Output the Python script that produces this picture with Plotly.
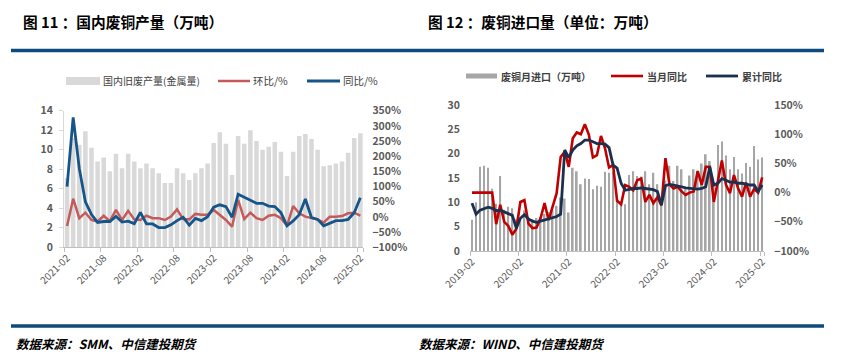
import plotly.graph_objects as go

W, H = 845, 360
FONT = "Noto Sans CJK SC, Noto Sans, sans-serif"
GRAY_TXT = "#595959"
RULE = "#0E4A7C"

# ---------------- Left chart: 国内废铜产量 ----------------
left_months = [f"{y}-{m:02d}" for y in range(2021, 2026) for m in range(1, 13)
               if "2021-02" <= f"{y}-{m:02d}" <= "2025-02"]
left_output = [7.1, 11.2, 10.5, 11.9, 10.2, 8.8, 9.2, 7.8, 9.6, 8.1,
               9.6, 8.8, 8.1, 8.6, 8.1, 7.6, 6.6, 6.6, 8.1, 7.6,
               6.9, 7.6, 8.1, 8.6, 10.7, 11.8, 10.6, 7.4, 11.4, 10.6,
               12.0, 10.9, 10.0, 10.3, 10.8, 9.8, 7.3, 9.8, 11.4, 11.6,
               11.1, 10.0, 8.3, 8.4, 8.6, 8.8, 9.7, 11.2, 11.7]
left_mom = [-30, 60, -4, 14, -10, -15, 4, -14, 23, -10,
            20, -8, -10, 4, -4, -4, -10, 1, 25, -7,
            -8, 10, 7, 7, 23, 7, -10, -32, 56, -7,
            14, -4, -10, 4, 7, -4, -29, 36, 12, 1,
            -4, -8, -19, 1, 1, 3, 12, 14, 4]
left_yoy = [100, 328, 160, 50, 8, -18, -15, -15, 2, -17,
            -14, -22, 15, -23, -23, -35, -35, -26, -12, -1,
            -27, -5, -12, 1, 32, 40, 34, -1, 75, 65,
            54, 45, 45, 36, 34, 14, -29, -13, 7, 59,
            -2, -8, -29, -21, -12, -12, -8, 14, 63]
left_ticks = ["2021-02", "2021-08", "2022-02", "2022-08", "2023-02",
              "2023-08", "2024-02", "2024-08", "2025-02"]

# ---------------- Right chart: 废铜进口量 ----------------
right_months = [f"{y}-{m:02d}" for y in range(2019, 2026) for m in range(1, 13)
                if "2019-02" <= f"{y}-{m:02d}" <= "2025-02"]
right_import = [6.4, 10.0, 17.3, 17.5, 17.1, 12.8, 9.7, 15.4, 8.5, 9.1,
                8.8, 6.5, 6.7, 8.3, 6.9, 6.5, 6.8, 7.0, 7.6, 8.0,
                8.5, 9.3, 11.0, 10.8, 7.9, 17.1, 16.4, 13.7, 14.9, 14.8,
                12.7, 13.4, 13.2, 16.3, 16.1, 16.3, 10.8, 10.0, 9.6, 15.6,
                16.4, 15.4, 15.3, 16.4, 13.7, 16.1, 13.7, 9.5, 14.5, 17.5,
                14.4, 17.5, 16.8, 12.7, 15.5, 16.8, 16.4, 18.0, 19.9, 18.5,
                14.2, 21.8, 22.5, 19.6, 16.8, 19.3, 16.8, 15.9, 18.1, 17.3,
                21.6, 18.8, 19.2]
right_month_yoy = [0, 0, 0, 0, 0, 0, -54, -21, -50, -57,
                   -72, -62, -16, -13, -53, -61, -60, -44, -18, -47,
                   -24, -1, 61, 70, 44, 93, 103, 100, 117, 99,
                   60, 64, 97, 76, 43, 47, -14, -20, 13, 10,
                   4, 21, 24, -16, -4, -18, -8, -22, 59, 14,
                   7, 10, 2, -4, 0, 2, 37, 13, 44, 44,
                   -16, 17, 55, 14, -1, 30, 8, -7, 17, -7,
                   6, 0, 26]
right_cum_yoy = [-18, -37, -30, -27, -25, -27, -31, -30, -33, -37,
                 -39, -61, -44, -38, -45, -49, -51, -49, -47, -46,
                 -44, -41, -37, 73, 60, 73, 80, 84, 90, 90,
                 87, 84, 84, 83, 77, 47, 42, 16, 4, 6,
                 7, 7, 8, 7, 6, 5, 2, -21, 12, 14,
                 13, 12, 10, 8, 7, 6, 6, 7, 10, 44,
                 13, 16, 24, 21, 18, 18, 16, 16, 14, 13,
                 13, 2, 13]
right_ticks = ["2019-02", "2020-02", "2021-02", "2022-02", "2023-02",
               "2024-02", "2025-02"]


def fx(px):
    return px / W


def fy(py):
    return 1 - py / H


fig = go.Figure()

# left traces
fig.add_trace(go.Bar(x=left_months, y=left_output, width=0.74, marker_color="#D9D9D9",
                     marker_line_width=0, xaxis="x", yaxis="y", showlegend=False))
fig.add_trace(go.Scatter(x=left_months, y=left_mom, mode="lines",
                         line=dict(color="#C55A5A", width=2.5), xaxis="x", yaxis="y2",
                         showlegend=False))
fig.add_trace(go.Scatter(x=left_months, y=left_yoy, mode="lines",
                         line=dict(color="#15558A", width=2.8), xaxis="x", yaxis="y2",
                         showlegend=False))
# right traces
fig.add_trace(go.Bar(x=right_months, y=right_import, width=0.42, marker_color="#A6A6A6",
                     marker_line_width=0, xaxis="x2", yaxis="y3", showlegend=False))
fig.add_trace(go.Scatter(x=right_months, y=right_month_yoy, mode="lines",
                         line=dict(color="#C00000", width=2.6), xaxis="x2", yaxis="y4",
                         showlegend=False))
fig.add_trace(go.Scatter(x=right_months, y=right_cum_yoy, mode="lines",
                         line=dict(color="#1B2F4E", width=2.8), xaxis="x2", yaxis="y4",
                         showlegend=False))

tick_font = dict(family=FONT, size=10.5, color=GRAY_TXT, weight="bold")
xtick_font = dict(family=FONT, size=10, color=GRAY_TXT)

fig.update_layout(
    template="none",
    width=W, height=H, margin=dict(l=0, r=0, t=0, b=0, pad=0, autoexpand=False),
    paper_bgcolor="white", plot_bgcolor="rgba(0,0,0,0)",
    font=dict(family=FONT),
    barmode="overlay",
    hovermode=False,
    xaxis=dict(domain=[fx(64), fx(363.4)], anchor="y", type="category", automargin=False,
               range=[-0.5, len(left_months) - 0.5], tickmode="array",
               tickvals=left_ticks, ticktext=left_ticks, tickangle=-45,
               tickson="boundaries", ticks="outside", ticklen=4, tickcolor="#BFBFBF",
               showline=True, linecolor="#BFBFBF", linewidth=1, showgrid=False,
               tickfont=xtick_font),
    yaxis=dict(domain=[fy(247.3), fy(110.7)], anchor="x", range=[0, 14], dtick=2,
               automargin=False,
               showline=True, linecolor="#D9D9D9", ticks="outside", ticklen=4,
               tickcolor="#D9D9D9", showgrid=False, zeroline=False, tickfont=tick_font,
               ticklabelstandoff=4),
    yaxis2=dict(overlaying="y", side="right", anchor="x", range=[-100, 350], dtick=50,
                automargin=False,
                ticksuffix="%", showgrid=False, zeroline=False, showline=False,
                tickfont=tick_font, ticklabelstandoff=8),
    xaxis2=dict(domain=[fx(470), fx(764.2)], anchor="y3", type="category",
                automargin=False,
                range=[-0.5, len(right_months) - 0.5], tickmode="array",
                tickvals=right_ticks, ticktext=right_ticks, tickangle=-45,
                tickson="boundaries", ticks="outside", ticklen=4, tickcolor="#BFBFBF",
                showline=True, linecolor="#BFBFBF", linewidth=1, showgrid=False,
                tickfont=xtick_font),
    yaxis3=dict(domain=[fy(251), fy(105)], anchor="x2", range=[0, 30], dtick=5,
                automargin=False,
                showline=False, showgrid=False, zeroline=False, tickfont=tick_font,
                ticklabelstandoff=9),
    yaxis4=dict(overlaying="y3", side="right", anchor="x2", range=[-100, 150], dtick=50,
                automargin=False,
                ticksuffix="%", showgrid=False, zeroline=False, showline=False,
                tickfont=tick_font, ticklabelstandoff=9),
)

shapes = []
# horizontal rules
shapes.append(dict(type="line", xref="paper", yref="paper", x0=fx(11), x1=fx(824),
                   y0=fy(50.5), y1=fy(50.5), line=dict(color=RULE, width=3.5)))
shapes.append(dict(type="line", xref="paper", yref="paper", x0=fx(11), x1=fx(824),
                   y0=fy(326), y1=fy(326), line=dict(color=RULE, width=3.5)))
# left legend symbols
shapes.append(dict(type="rect", xref="paper", yref="paper", x0=fx(66), x1=fx(100),
                   y0=fy(85), y1=fy(77), fillcolor="#D9D9D9", line=dict(width=0)))
shapes.append(dict(type="line", xref="paper", yref="paper", x0=fx(218), x1=fx(250),
                   y0=fy(81), y1=fy(81), line=dict(color="#C55A5A", width=2.5)))
shapes.append(dict(type="line", xref="paper", yref="paper", x0=fx(307), x1=fx(340),
                   y0=fy(81), y1=fy(81), line=dict(color="#15558A", width=2.8)))
# right legend symbols
shapes.append(dict(type="rect", xref="paper", yref="paper", x0=fx(466), x1=fx(497),
                   y0=fy(78.5), y1=fy(73.5), fillcolor="#A6A6A6", line=dict(width=0)))
shapes.append(dict(type="line", xref="paper", yref="paper", x0=fx(611), x1=fx(643),
                   y0=fy(76), y1=fy(76), line=dict(color="#C00000", width=2.6)))
shapes.append(dict(type="line", xref="paper", yref="paper", x0=fx(706), x1=fx(738),
                   y0=fy(76), y1=fy(76), line=dict(color="#1B2F4E", width=2.8)))
fig.update_layout(shapes=shapes)


def label(text, x, y, size, color="#404040", weight="normal", style="normal"):
    fig.add_annotation(text=text, xref="paper", yref="paper", x=fx(x), y=fy(y),
                       xanchor="left", yanchor="middle", showarrow=False,
                       font=dict(family=FONT, size=size, color=color, weight=weight,
                                 style=style))


label("图 11 ：国内废铜产量（万吨）", 21, 21, 14.7, "#000000", "bold")
label("图 12 ：废铜进口量（单位：万吨）", 426, 21, 14.7, "#000000", "bold")
label("国内旧废产量(金属量)", 101, 81, 10)
label("环比/%", 251, 81, 10.5)
label("同比/%", 341, 81, 10.5)
label("废铜月进口（万吨）", 499, 76, 10, "#404040", "bold")
label("当月同比", 645, 76, 10, "#404040", "bold")
label("累计同比", 740, 76, 10, "#404040", "bold")
label("数据来源：SMM、中信建投期货", 14, 343, 12.5, "#000000", "bold", "italic")
label("数据来源：WIND、中信建投期货", 417, 343, 12.5, "#000000", "bold", "italic")

fig.write_html("out.html", config={"displayModeBar": False},
               post_script="document.body.style.margin='0';document.body.style.padding='0';")
